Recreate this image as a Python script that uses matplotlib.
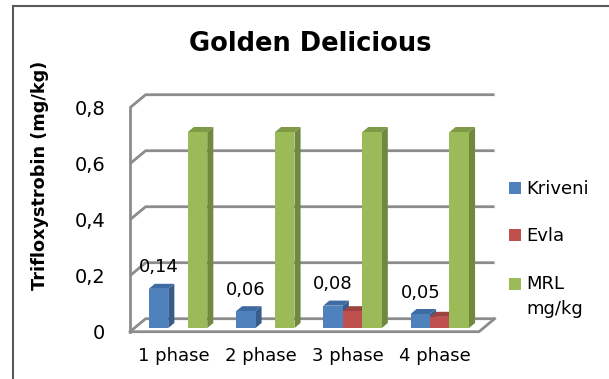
import matplotlib.pyplot as plt
from matplotlib.patches import Polygon, Rectangle
from matplotlib.legend_handler import HandlerPatch
import numpy as np

# Data
phases = ['1 phase', '2 phase', '3 phase', '4 phase']
kriveni = [0.14, 0.06, 0.08, 0.05]
evla = [0.0, 0.0, 0.06, 0.04]
mrl = [0.7, 0.7, 0.7, 0.7]
kriveni_labels = ['0,14', '0,06', '0,08', '0,05']
y_ticks = [0, 0.2, 0.4, 0.6, 0.8]
y_ticklabels = ['0', '0,2', '0,4', '0,6', '0,8']
series_names = ['Kriveni', 'Evla', 'MRL\nmg/kg']

# front / side / top colours
colors = [('#4F81BD', '#385D8A', '#3E6BA3'),
          ('#C0504D', '#8C3A38', '#9E4240'),
          ('#9BBB59', '#71893F', '#7E9A46')]

# fake 3D depth (data units)
DX, DY = 0.179, 0.0464      # full depth of the wall box
f = 0.28                     # bars front depth fraction
bd = 0.39                    # bar depth fraction
w = 0.2234                   # bar width

fig = plt.figure(figsize=(6.09, 3.79), dpi=100)
ax = fig.add_axes([130 / 609, (379 - 331.7) / 379, 349 / 609, 224 / 379])
ax.set_xlim(-0.5, 3.5)
ax.set_ylim(0, 0.8)
for s in ax.spines.values():
    s.set_visible(False)

grid_c = '#8c8c8c'
x0, x1 = -0.5, 3.5
# back wall gridlines + left wall diagonals
for v in y_ticks:
    ax.plot([x0, x0 + DX, x1 + DX], [v, v + DY, v + DY], color=grid_c, lw=2,
            clip_on=False, zorder=1, solid_capstyle='butt')
# front left edge and floor
ax.plot([x0, x0], [0, 0.8], color=grid_c, lw=2, clip_on=False, zorder=1)
ax.plot([x0, x1, x1 + DX], [0, 0, DY], color=grid_c, lw=2, clip_on=False, zorder=1)

x = np.arange(len(phases))
for si, vals in enumerate([kriveni, evla, mrl]):
    fc, sc, tc = colors[si]
    left = x + (si - 1.5) * w + f * DX
    base = f * DY
    bdx, bdy = bd * DX, bd * DY
    for xl, v in zip(left, vals):
        if v <= 0:
            continue
        top = base + v
        xr = xl + w
        ax.add_patch(Polygon([(xr, base), (xr + bdx, base + bdy), (xr + bdx, top + bdy), (xr, top)],
                             closed=True, facecolor=sc, edgecolor='none', zorder=2 + si, clip_on=False))
        ax.add_patch(Polygon([(xl, top), (xr, top), (xr + bdx, top + bdy), (xl + bdx, top + bdy)],
                             closed=True, facecolor=tc, edgecolor='none', zorder=2 + si, clip_on=False))
    ax.bar(left, vals, width=w, bottom=base, align='edge', color=fc, linewidth=0,
           zorder=2 + si, clip_on=False)

# data labels on Kriveni
for i, (v, lab) in enumerate(zip(kriveni, kriveni_labels)):
    xc = x[i] - 1.5 * w + f * DX + w / 2
    ax.annotate(lab, (xc, f * DY + v), xytext=(0, 9), textcoords='offset points',
                ha='center', va='bottom', fontsize=13)

ax.set_yticks(y_ticks)
ax.set_yticklabels(y_ticklabels, fontsize=14)
ax.set_xticks(x)
ax.set_xticklabels(phases, fontsize=13)
ax.tick_params(axis='y', length=0, pad=18)
ax.tick_params(axis='x', length=0, pad=11)

ax.set_ylabel('Trifloxystrobin (mg/kg)', fontsize=12.7, fontweight='bold')
ax.yaxis.set_label_coords(-0.2335, 0.70)

fig.suptitle('Golden Delicious', x=310 / 609, y=(379 - 44) / 379, va='center',
             fontsize=18.5, fontweight='bold')


# legend marker of the two-line entry sits next to the first line
def first_line_patch(legend, orig_handle, xdescent, ydescent, width, height, fontsize):
    return Rectangle((-xdescent, -ydescent + 0.72 * fontsize), width, height)


handles = [Rectangle((0, 0), 1, 1, facecolor=c[0], edgecolor='none') for c in colors]
leg = fig.legend(handles, series_names, loc='upper left', bbox_to_anchor=(500 / 609, 1 - 171 / 379),
                 frameon=False, fontsize=13, handlelength=0.65, handleheight=0.65,
                 handletextpad=0.3, labelspacing=1.62, borderpad=0,
                 handler_map={handles[2]: HandlerPatch(patch_func=first_line_patch)})
for t in leg.get_texts():
    t.set_linespacing(1.5)

# outer frame
fig.patches.append(Rectangle((12.5 / 609, -0.5), 2, (379 - 5.5) / 379 + 0.5, transform=fig.transFigure,
                             fill=False, edgecolor='#595959', lw=1.5))

fig.savefig('out.png', dpi=100)
